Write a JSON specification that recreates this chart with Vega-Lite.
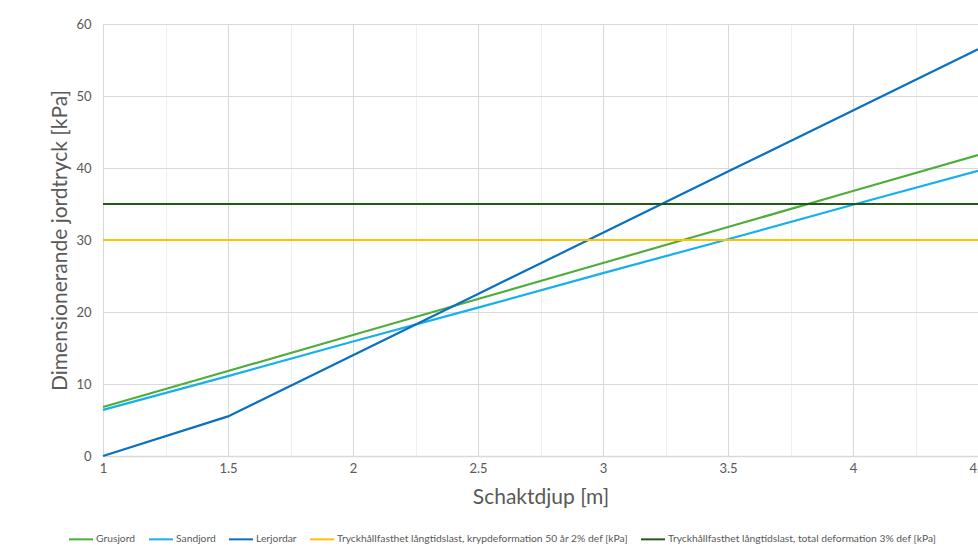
{
  "$schema": "https://vega.github.io/schema/vega-lite/v6.json",
  "autosize": {"type": "none"},
  "padding": {"left": 103, "top": 24, "right": 0, "bottom": 95},
  "width": 875,
  "height": 432,
  "background": "white",
  "config": {
    "font": "Lato",
    "view": {"stroke": null},
    "axis": {"labelColor": "#595959", "titleColor": "#595959", "titleFontWeight": "normal", "ticks": false}
  },
  "data": {
    "values": [
      {"serie": "Grusjord", "djup": 1, "tryck": 6.8},
      {"serie": "Grusjord", "djup": 1.5, "tryck": 11.8},
      {"serie": "Grusjord", "djup": 2, "tryck": 16.8},
      {"serie": "Grusjord", "djup": 2.5, "tryck": 21.8},
      {"serie": "Grusjord", "djup": 3, "tryck": 26.8},
      {"serie": "Grusjord", "djup": 3.5, "tryck": 31.8},
      {"serie": "Grusjord", "djup": 4, "tryck": 36.8},
      {"serie": "Grusjord", "djup": 4.5, "tryck": 41.8},
      {"serie": "Sandjord", "djup": 1, "tryck": 6.4},
      {"serie": "Sandjord", "djup": 1.5, "tryck": 11.1},
      {"serie": "Sandjord", "djup": 2, "tryck": 15.9},
      {"serie": "Sandjord", "djup": 2.5, "tryck": 20.6},
      {"serie": "Sandjord", "djup": 3, "tryck": 25.4},
      {"serie": "Sandjord", "djup": 3.5, "tryck": 30.1},
      {"serie": "Sandjord", "djup": 4, "tryck": 34.9},
      {"serie": "Sandjord", "djup": 4.5, "tryck": 39.6},
      {"serie": "Lerjordar", "djup": 1, "tryck": 0},
      {"serie": "Lerjordar", "djup": 1.5, "tryck": 5.5},
      {"serie": "Lerjordar", "djup": 2, "tryck": 14},
      {"serie": "Lerjordar", "djup": 2.5, "tryck": 22.5},
      {"serie": "Lerjordar", "djup": 3, "tryck": 31},
      {"serie": "Lerjordar", "djup": 3.5, "tryck": 39.5},
      {"serie": "Lerjordar", "djup": 4, "tryck": 48},
      {"serie": "Lerjordar", "djup": 4.5, "tryck": 56.5},
      {"serie": "Tryckhållfasthet långtidslast, krypdeformation 50 år 2% def [kPa]", "djup": 1, "tryck": 30},
      {"serie": "Tryckhållfasthet långtidslast, krypdeformation 50 år 2% def [kPa]", "djup": 4.5, "tryck": 30},
      {"serie": "Tryckhållfasthet långtidslast, total deformation 3% def [kPa]", "djup": 1, "tryck": 35},
      {"serie": "Tryckhållfasthet långtidslast, total deformation 3% def [kPa]", "djup": 4.5, "tryck": 35}
    ]
  },
  "mark": {"type": "line", "strokeWidth": 2.2, "clip": false},
  "encoding": {
    "x": {
      "field": "djup", "type": "quantitative",
      "scale": {"domain": [1, 4.5], "nice": false, "zero": false},
      "axis": {
        "title": "Schaktdjup [m]",
        "titleFontSize": 21,
        "titlePadding": 11,
        "labelFontSize": 13,
        "labelPadding": 6,
        "values": [1, 1.25, 1.5, 1.75, 2, 2.25, 2.5, 2.75, 3, 3.25, 3.5, 3.75, 4, 4.25, 4.5],
        "labelExpr": "datum.value % 0.5 === 0 ? format(datum.value, '~g') : ''",
        "labelOverlap": false,
        "labelBound": false,
        "labelFlush": false,
        "grid": true,
        "gridColor": {"condition": {"test": "datum.value % 0.5 !== 0", "value": "#efefef"}, "value": "#d9d9d9"},
        "domainColor": "#d9d9d9",
        "domainWidth": 1.5
      }
    },
    "y": {
      "field": "tryck", "type": "quantitative",
      "scale": {"domain": [0, 60], "nice": false},
      "axis": {
        "title": "Dimensionerande jordtryck [kPa]",
        "titleFontSize": 21,
        "titlePadding": 5,
        "labelFontSize": 13,
        "labelPadding": 12,
        "values": [0, 10, 20, 30, 40, 50, 60],
        "grid": true,
        "gridColor": "#d9d9d9",
        "domain": false
      }
    },
    "color": {
      "field": "serie", "type": "nominal",
      "scale": {
        "domain": ["Grusjord", "Sandjord", "Lerjordar", "Tryckhållfasthet långtidslast, krypdeformation 50 år 2% def [kPa]", "Tryckhållfasthet långtidslast, total deformation 3% def [kPa]"],
        "range": ["#4EAD3B", "#16B0EC", "#0A70C0", "#FFC000", "#1F5A16"]
      },
      "legend": {
        "title": null,
        "orient": "none",
        "direction": "horizontal",
        "legendX": -35,
        "legendY": 502,
        "columns": 5,
        "symbolType": "stroke",
        "symbolSize": 576,
        "symbolStrokeWidth": 2,
        "labelFontSize": 10.3,
        "labelColor": "#595959",
        "labelLimit": 500,
        "columnPadding": 9,
        "labelOffset": 2
      }
    }
  }
}
